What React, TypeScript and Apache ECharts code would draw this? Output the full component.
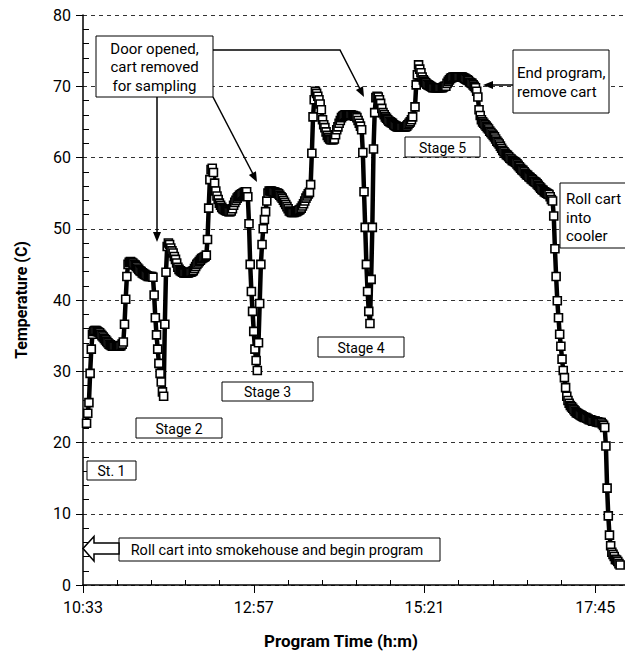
import React, { useEffect, useRef } from "react";
import * as echarts from "echarts";

// ---- Data (minutes after 10:33, one reading per minute; temperature in °C) ----
const clockStartMinutes = 10 * 60 + 33; // 10:33
const xTickStep = 144; // minutes between labelled ticks
const yMin = 0;
const yMax = 80;
const yStep = 10;

const stage1Start = 3;
const stage1Temps = [
  22.7, 24.1, 25.6, 29.7, 33.1, 35.2, 35.6, 35.7, 35.7, 35.6, 35.5, 35.4, 35.2, 35.0, 34.8, 34.6,
  34.4, 34.2, 34.0, 33.8, 33.7, 33.6, 33.5, 33.5, 33.5, 33.5, 33.5, 33.5, 33.5, 33.6, 33.8, 34.1,
  36.6, 40.1, 43.3,
];

const stage2aStart = 38;
const stage2aTemps = [
  45.0, 45.3, 45.4, 45.3, 45.2, 45.0, 44.9, 44.7, 44.5, 44.3, 44.1, 44.0, 43.8, 43.7, 43.6, 43.5,
  43.4, 43.3, 43.3, 43.3, 43.3, 43.2, 40.7, 37.5, 35.1, 33.1, 31.1, 29.7, 28.5, 27.1, 26.5, 36.6,
  43.9, 47.5, 48.0,
];

const stage2bStart = 73;
const stage2bTemps = [
  47.8, 47.3, 46.9, 46.6, 46.1, 45.7, 45.2, 44.6, 44.3, 44.1, 44.0, 43.9, 43.8, 43.8, 43.8, 43.8,
  43.8, 43.9, 43.9, 44.0, 44.1, 44.4, 44.7, 45.0, 45.2, 45.4, 45.6, 45.8, 45.9, 46.0, 46.1, 46.3,
];

const stage3aStart = 105;
const stage3aTemps = [
  48.5, 52.9, 56.9, 58.3, 58.5, 57.9, 56.4, 55.3, 54.6, 54.1, 53.6, 53.3, 53.0, 52.8, 52.7, 52.6,
  52.5, 52.5, 52.4, 52.4, 52.5, 52.8, 53.3, 53.7, 54.0, 54.3, 54.5, 54.7, 54.8, 54.9, 55.0, 55.1,
  55.2,
];

const stage3bStart = 138;
const stage3bTemps = [
  55.2, 54.5, 50.7, 45.0, 41.2, 38.4, 35.6, 33.1, 31.5, 30.1, 34.0, 39.5, 45.0, 47.8, 50.0, 51.3,
  52.4, 53.9, 55.0, 55.3, 55.3, 55.3, 55.2, 55.2, 55.1, 55.0,
];

const stage4aStart = 164;
const stage4aTemps = [
  55.0, 54.9, 54.7, 54.5, 54.3, 54.0, 53.7, 53.4, 53.1, 52.8, 52.5, 52.4, 52.3, 52.3, 52.3, 52.4,
  52.4, 52.5, 52.6, 52.7, 52.9, 53.2, 53.5, 53.9, 54.3, 54.6, 54.9, 55.1, 56.2, 60.6, 65.7, 68.1,
  69.3,
];

const stage4bStart = 197;
const stage4bTemps = [
  69.0, 68.6, 68.1, 67.5, 66.7, 65.3, 64.6, 64.2, 63.6, 63.1, 62.8, 62.6, 62.5, 62.5, 62.5, 62.6,
  63.2, 63.9, 64.3, 64.8, 65.2, 65.6, 65.8, 65.9, 66.0, 66.0, 66.0, 66.0, 66.0, 66.0, 65.9, 65.9,
  65.8, 65.8, 65.6, 65.2, 64.8, 64.4, 63.9,
];

const stage5aStart = 236;
const stage5aTemps = [
  60.7, 55.2, 50.2, 45.0, 41.2, 38.4, 36.7, 42.9, 50.2, 61.2, 66.3, 68.4, 68.6, 68.5, 68.1, 67.6,
  66.9, 66.3, 66.0, 65.7, 65.5, 65.3, 65.1, 65.0, 64.9, 64.8, 64.6, 64.5, 64.4, 64.3, 64.3, 64.3,
  64.3, 64.3, 64.3, 64.3, 64.3, 64.4, 64.6, 64.8, 65.0, 65.3, 65.7,
];

const stage5bStart = 280;
const stage5bTemps = [
  67.1, 70.2, 71.6, 73.0, 72.4, 71.9, 71.3, 70.9, 70.7, 70.5, 70.3, 70.2, 70.1, 70.0, 69.9, 69.8,
  69.8, 69.8, 69.8, 69.8, 69.8, 69.8, 69.8, 69.8, 69.9, 70.0, 70.0, 70.4, 70.7, 70.9, 71.1, 71.2,
  71.3, 71.3, 71.3, 71.3, 71.3, 71.3, 71.3, 71.3, 71.3, 71.2, 71.1, 71.0, 70.9, 70.8, 70.6, 70.5,
  70.4, 70.2, 70.0, 69.8, 69.3, 68.5, 66.7, 65.9, 65.3,
];

const holdStart = 337;
const holdTemps = [
  65.0, 64.8, 64.6, 64.4, 64.2, 64.0, 63.7, 63.5, 63.3, 63.1, 62.9, 62.6, 62.3, 62.1, 61.9, 61.6,
  61.3, 61.0, 60.8, 60.6, 60.4, 60.3, 60.1, 59.9, 59.8, 59.6, 59.5, 59.4, 59.3, 59.1, 58.9, 58.7,
  58.5, 58.3, 58.2, 58.0, 57.8, 57.6, 57.5, 57.3, 57.2, 57.0, 56.9, 56.7, 56.6, 56.5, 56.3, 56.1,
  55.9, 55.7, 55.5, 55.4, 55.2, 55.1, 55.0, 54.9, 54.8, 54.5, 54.1,
];

const coolerStart = 396;
const coolerTemps = [
  53.9, 51.8, 47.2, 43.3, 39.9, 37.5, 35.2, 33.5, 31.7, 30.1, 29.1, 27.7, 26.5, 25.9, 25.5, 25.2,
  25.0, 24.8, 24.6, 24.4, 24.2, 24.1, 24.0, 23.9, 23.8, 23.7, 23.6, 23.5, 23.5, 23.4, 23.3, 23.2,
  23.2, 23.1, 23.0, 23.0, 23.0, 22.9, 22.9, 22.8, 22.8, 22.8, 22.6, 22.4, 22.1, 19.5, 13.6, 9.7,
  7.0, 5.5, 4.6, 4.3, 4.0, 3.6, 3.5, 3.3, 3.0, 2.8,
];

const segments: { start: number; temps: number[] }[] = [
  { start: stage1Start, temps: stage1Temps },
  { start: stage2aStart, temps: stage2aTemps },
  { start: stage2bStart, temps: stage2bTemps },
  { start: stage3aStart, temps: stage3aTemps },
  { start: stage3bStart, temps: stage3bTemps },
  { start: stage4aStart, temps: stage4aTemps },
  { start: stage4bStart, temps: stage4bTemps },
  { start: stage5aStart, temps: stage5aTemps },
  { start: stage5bStart, temps: stage5bTemps },
  { start: holdStart, temps: holdTemps },
  { start: coolerStart, temps: coolerTemps },
];

// ---- Annotation texts ----
const doorNote = "Door opened,\ncart removed\nfor sampling";
const endNote = "End program,\nremove cart";
const coolerNote = "Roll cart\ninto\ncooler";
const startNote = "Roll cart into smokehouse and begin program";
const stageLabels = ["St. 1", "Stage 2", "Stage 3", "Stage 4", "Stage 5"];
const xAxisTitle = "Program Time (h:m)";
const yAxisTitle = "Temperature (C)";

// ---- Layout (pixels) ----
const FONT = "Roboto";
const stageBoxes = [
  { x: 87, y: 461, w: 49, h: 19 },
  { x: 136, y: 418, w: 86, h: 20 },
  { x: 222, y: 382, w: 91, h: 19 },
  { x: 318, y: 337, w: 86, h: 20 },
  { x: 405, y: 137, w: 75, h: 20 },
];

function fmtClock(v: number): string {
  const m = clockStartMinutes + v;
  const h = Math.floor(m / 60);
  const mm = m % 60;
  return `${h}:${mm < 10 ? "0" : ""}${mm}`;
}

function arrowHead(x1: number, y1: number, x2: number, y2: number, len = 10, half = 4) {
  const dx = x2 - x1;
  const dy = y2 - y1;
  const d = Math.hypot(dx, dy);
  const ux = dx / d;
  const uy = dy / d;
  const bx = x2 - ux * len;
  const by = y2 - uy * len;
  return {
    type: "polygon",
    z: 60,
    shape: {
      points: [
        [x2, y2],
        [bx - uy * half, by + ux * half],
        [bx + uy * half, by - ux * half],
      ],
    },
    style: { fill: "#000" },
  };
}

function box(x: number, y: number, w: number, h: number) {
  return {
    type: "rect",
    z: 50,
    shape: { x, y, width: w, height: h },
    style: { fill: "#fff", stroke: "#000", lineWidth: 1 },
  };
}

function label(text: string, x: number, y: number, size: number, align = "center", lh = 18.5) {
  return {
    type: "text",
    z: 70,
    x,
    y,
    style: {
      text,
      fill: "#000",
      fontSize: size,
      fontFamily: FONT,
      align,
      verticalAlign: "middle",
      lineHeight: lh,
    },
  };
}

export default function App() {
  const ref = useRef<HTMLDivElement>(null);

  useEffect(() => {
    if (!ref.current) return;
    const chart = echarts.init(ref.current, null, { renderer: "svg" });

    const points: number[][] = [];
    segments.forEach((s) => s.temps.forEach((v, i) => points.push([s.start + i, v])));

    const graphic: any[] = [];
    stageBoxes.forEach((b, i) => {
      graphic.push(box(b.x, b.y, b.w, b.h));
      graphic.push(label(stageLabels[i], b.x + b.w / 2, b.y + b.h / 2 + 0.5, 14));
    });
    graphic.push(box(96, 36, 117, 61));
    graphic.push(label(doorNote, 154.5, 67, 15, "center", 18.5));
    graphic.push(box(513, 50, 96, 63));
    graphic.push(label(endNote, 517, 82.5, 15, "left", 19));
    graphic.push(box(560, 183, 70, 65));
    graphic.push(label(coolerNote, 566, 217.5, 15, "left", 18.5));
    graphic.push(box(119, 538, 321, 23));
    graphic.push(label(startNote, 277, 550, 14.5));
    graphic.push({
      type: "polygon",
      z: 55,
      shape: {
        points: [
          [83, 548.5],
          [94, 536.5],
          [94, 543],
          [119, 543],
          [119, 554],
          [94, 554],
          [94, 561],
        ],
      },
      style: { fill: "#fff", stroke: "#000", lineWidth: 1.5 },
    });
    const lineStyle = { stroke: "#000", lineWidth: 1.5 };
    graphic.push({ type: "line", z: 55, shape: { x1: 157, y1: 97, x2: 157, y2: 233 }, style: lineStyle });
    graphic.push(arrowHead(157, 97, 157, 242));
    graphic.push({ type: "line", z: 55, shape: { x1: 213, y1: 97, x2: 253, y2: 174 }, style: lineStyle });
    graphic.push(arrowHead(213, 97, 257, 182));
    graphic.push({
      type: "polyline",
      z: 55,
      shape: { points: [[213, 50], [340, 50], [360, 89]] },
      style: { ...lineStyle, fill: null },
    });
    graphic.push(arrowHead(340, 50, 364, 97));
    graphic.push({ type: "line", z: 55, shape: { x1: 513, y1: 85, x2: 492, y2: 85 }, style: lineStyle });
    graphic.push(arrowHead(513, 85, 483, 85));
    graphic.push({
      type: "text",
      z: 70,
      x: 341,
      y: 641,
      style: {
        text: xAxisTitle,
        fill: "#000",
        fontSize: 17,
        fontWeight: "bold",
        fontFamily: FONT,
        align: "center",
        verticalAlign: "middle",
      },
    });

    chart.setOption({
      animation: false,
      backgroundColor: "#fff",
      grid: {
        left: 83,
        top: 15,
        bottom: 70,
        width: 683,
        containLabel: false,
        outerBoundsMode: "none",
      },
      xAxis: {
        type: "value",
        min: 0,
        max: xTickStep * 4,
        interval: xTickStep,
        axisLine: { show: true, lineStyle: { color: "#000", width: 1.5 } },
        axisTick: { show: true, inside: false, length: 8, lineStyle: { color: "#000", width: 1 } },
        minorTick: { show: true, splitNumber: 5, length: -5, lineStyle: { color: "#000", width: 1 } },
        splitLine: { show: false },
        axisLabel: {
          margin: 14,
          fontSize: 16,
          fontFamily: FONT,
          color: "#000",
          formatter: (v: number) => (v % xTickStep === 0 && v < xTickStep * 4 ? fmtClock(v) : ""),
        },
      },
      yAxis: {
        type: "value",
        min: yMin,
        max: yMax,
        interval: yStep,
        name: yAxisTitle,
        nameLocation: "middle",
        nameGap: 54,
        nameTextStyle: { fontSize: 16, fontWeight: "bold", fontFamily: FONT, color: "#000" },
        axisLine: { show: true, lineStyle: { color: "#000", width: 1.5 } },
        axisTick: { show: true, inside: false, length: 7, lineStyle: { color: "#000", width: 1 } },
        minorTick: { show: true, splitNumber: 5, length: -6, lineStyle: { color: "#000", width: 1 } },
        splitLine: { show: true, lineStyle: { color: "#333", width: 1, type: [4, 4] } },
        axisLabel: { margin: 12, fontSize: 16, fontFamily: FONT, color: "#000" },
      },
      series: [
        {
          type: "line",
          data: points,
          silent: true,
          showSymbol: true,
          showAllSymbol: true,
          symbol: "rect",
          symbolSize: 8,
          lineStyle: { color: "#000", width: 4.5 },
          itemStyle: { color: "#fff", borderColor: "#000", borderWidth: 1.6 },
          z: 3,
        },
      ],
      graphic,
    });

    return () => chart.dispose();
  }, []);

  return (
    <div
      ref={ref}
      style={{ position: "fixed", left: 0, top: 0, width: 625, height: 655, overflow: "hidden", background: "#fff" }}
    />
  );
}
